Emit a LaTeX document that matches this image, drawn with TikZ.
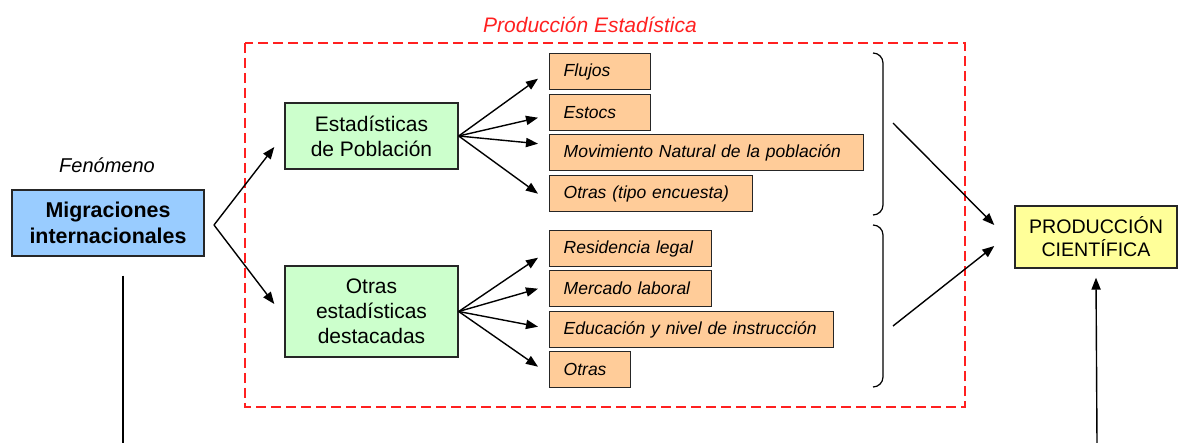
\documentclass[tikz,border=0pt]{standalone}
\usepackage{fontspec}
\setmainfont{Liberation Sans}
\usetikzlibrary{arrows.meta}
\definecolor{migblue}{HTML}{99CCFF}
\definecolor{statgreen}{HTML}{CCFFCC}
\definecolor{itemorange}{HTML}{FFCC99}
\definecolor{pcyellow}{HTML}{FFFF99}
\definecolor{peRed}{HTML}{FF2020}
\begin{document}
\begin{tikzpicture}[x=0.5pt,y=-0.5pt,
  box/.style={draw=black!85,line width=0.7pt},
  greenbox/.style={box,fill=statgreen,align=center,minimum width=86.5pt,font=\fontsize{10.5}{12.5}\selectfont},
  itembox/.style={box,fill=itemorange,anchor=north west,minimum height=18pt,inner xsep=7pt,align=left,font=\fontsize{8.75}{10}\selectfont\itshape},
  bracket/.style={line width=0.6pt,rounded corners=5pt},
  arr/.style={-{Triangle[length=6pt,width=4.6pt]},line width=0.7pt}]
\useasboundingbox (0,0) rectangle (1179,443);

% Produccion estadistica: dashed frame and its title
\draw[peRed,line width=0.6pt,dash pattern=on 5pt off 2.5pt] (245,43) rectangle (965,407);
\node[text=peRed,font=\fontsize{10.5}{12}\selectfont\itshape] (pe) at (590,25) {Producción Estadística};

% Phenomenon
\node[font=\fontsize{10}{12}\selectfont\itshape] (fen) at (107,165) {Fenómeno};
\node[box,fill=migblue,minimum width=96pt,minimum height=33pt,align=center,font=\fontsize{10.7}{13}\selectfont\bfseries] (mig) at (108,223) {Migraciones\\internacionales};

% Two groups of statistics
\node[greenbox,minimum height=33pt] (est) at (371.5,136) {Estadísticas\\de Población};
\node[greenbox,minimum height=45.5pt] (otr) at (371.5,311.5) {Otras\\estadísticas\\destacadas};

\coordinate (fork) at (214,225);
\draw[arr] (fork) -- ([xshift=-5pt,yshift=-5.5pt]est.west);
\draw[arr] (fork) -- ([xshift=-5pt,yshift=3.75pt]otr.west);

% Items of each group
\foreach \nm/\yy/\w/\dy/\src/\txt in {fl/53/101/-3.5/est/Flujos,
    es/94/101/-2.5/est/Estocs,
    mn/134/314/4.5/est/Movimiento Natural de la población,
    ot/175/203/0/est/Otras (tipo encuesta),
    rl/230/162/-4.5/otr/Residencia legal,
    ml/270/162/0/otr/Mercado laboral,
    ed/311/284/1.5/otr/Educación y nivel de instrucción,
    oo/351/81/1.5/otr/Otras} {
  \pgfmathsetmacro\tw{\w*0.5-14}
  \node[itembox,text width=\tw pt] (\nm) at (549,\yy) {\txt};
  \draw[arr] (\src.east) -- ([xshift=-5.5pt,yshift=\dy pt]\nm.west);
}

% Brackets closing each group
\draw[bracket] (873,53) -- (883,53) -- (883,215) -- (873,215);
\draw[bracket] (873,225) -- (883,225) -- (883,387) -- (873,387);

% Scientific production
\node[box,fill=pcyellow,minimum width=81pt,minimum height=31pt,align=center,font=\fontsize{9.8}{11.5}\selectfont] (pc) at (1096,237) {PRODUCCIÓN\\CIENTÍFICA};

\coordinate (ua) at (893,123);
\coordinate (la) at (893,326);
\draw[arr] (ua) -- ([xshift=-10pt,yshift=6pt]pc.west);
\draw[arr] (la) -- ([xshift=-10pt,yshift=-4.5pt]pc.west);

% Lines leaving the picture at the bottom
\coordinate (lb) at (123,443);
\coordinate (rb) at (1097,443);
\draw[line width=0.7pt] ([xshift=7.5pt,yshift=-9.5pt]mig.south) -- (lb);
\draw[arr] (rb) -- ([yshift=-4.5pt]pc.south);
\end{tikzpicture}
\end{document}
